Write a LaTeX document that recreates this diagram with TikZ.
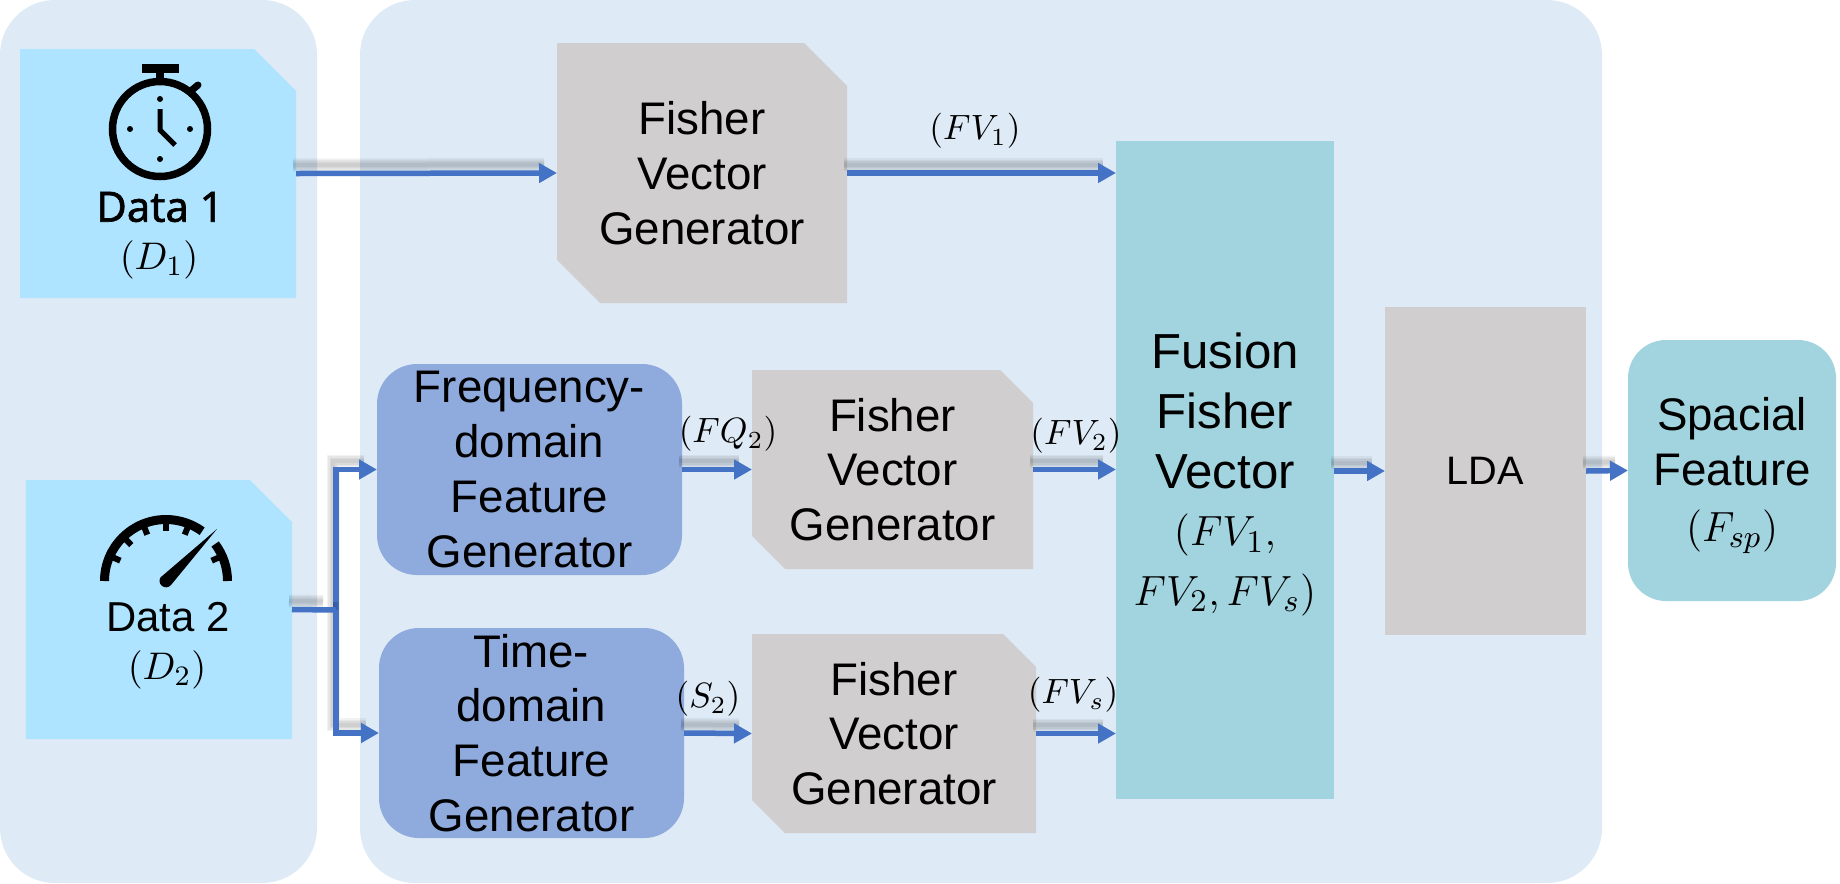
\documentclass[tikz,border=0pt]{standalone}
\usepackage{fontspec}
\setmainfont{Liberation Sans}
\newfontfamily\datafont[FakeBold=1.4]{Noto Sans}
\usetikzlibrary{arrows.meta}
\definecolor{panelblue}{HTML}{DEEAF6}
\definecolor{databg}{HTML}{AEE4FF}
\definecolor{gengray}{HTML}{D0CECE}
\definecolor{featblue}{HTML}{8FAADC}
\definecolor{fusionteal}{HTML}{A2D4E0}
\definecolor{flowblue}{HTML}{4472C4}
\tikzset{
  panel/.style={fill=panelblue,rounded corners=.55cm,inner sep=0,outer sep=0},
  databox/.style={inner sep=0,outer sep=0,path picture={
    \fill[databg] (path picture bounding box.north west) -- ([xshift=-.42cm]path picture bounding box.north east)
      -- ([yshift=-.42cm]path picture bounding box.north east) -- (path picture bounding box.south east)
      -- (path picture bounding box.south west) -- cycle;}},
  fisherbox/.style={inner sep=0,outer sep=0,align=center,font=\fontsize{13}{15.6}\selectfont,path picture={
    \fill[gengray] (path picture bounding box.north west) -- ([xshift=-#1]path picture bounding box.north east)
      -- ([yshift=-#1]path picture bounding box.north east) -- (path picture bounding box.south east)
      -- ([xshift=#1]path picture bounding box.south west) -- ([yshift=#1]path picture bounding box.south west) -- cycle;}},
  fisherbox/.default=.33cm,
  featbox/.style={fill=featblue,rounded corners=.4cm,inner sep=0,outer sep=0,
    align=center,font=\fontsize{13}{15.6}\selectfont},
  flatbox/.style={fill=gengray,inner sep=0,outer sep=0,font=\fontsize{11.3}{14}\selectfont},
  fusionbox/.style={fill=fusionteal,inner sep=0,outer sep=0},
  sigbox/.style={fill=fusionteal,rounded corners=.38cm,inner sep=0,outer sep=0},
  siglabel/.style={inner sep=0,font=\fontsize{10.3}{12}\selectfont},
  softshade/.style={preaction={-,draw=black,opacity=.05,line width=#1,shorten >=.1cm,
    transform canvas={xshift=-.03cm,yshift=.085cm}}},
  flowline/.style={draw=flowblue,line width=.055cm,softshade=.13cm,softshade=.10cm,softshade=.07cm,softshade=.04cm},
  flow/.style={flowline,-{Triangle[length=.18cm,width=.19cm]}},
}
\begin{document}
\begin{tikzpicture}
\useasboundingbox (0,0) rectangle (18.40,-8.83);
% background panels
\node[panel,minimum width=3.17cm,minimum height=8.83cm] (inpanel) at(1.585,-4.415) {};
\node[panel,minimum width=12.42cm,minimum height=8.83cm] (mainpanel) at(9.81,-4.415) {};
% input blocks
\node[databox,minimum width=2.76cm,minimum height=2.49cm] (data1) at(1.58,-1.735) {};
\node[databox,minimum width=2.66cm,minimum height=2.59cm] (data2) at(1.59,-6.095) {};
\node[font=\datafont\fontsize{11.9}{14}\selectfont] (data1name) at(1.60,-2.07) {Data 1};
\node[font=\fontsize{11.2}{14}\selectfont] (data1sym) at(1.59,-2.60) {$(D_1)$};
\node[font=\fontsize{11.9}{14}\selectfont] (data2name) at(1.68,-6.17) {Data 2};
\node[font=\fontsize{11.2}{14}\selectfont] (data2sym) at(1.67,-6.70) {$(D_2)$};
% stopwatch
\draw[line width=.075cm] (1.60,-1.29) circle (.475);
\fill (1.42,-.64) rectangle (1.79,-.73);
\fill (1.56,-.73) rectangle (1.64,-.82);
\draw[line width=.07cm,line cap=round] (1.92,-.90) -- (1.98,-.85);
\foreach \a in {0,90,180,270}
  \fill (\a:.30)++(1.60,-1.29) circle (.03);
\draw[line width=.05cm] (1.60,-1.09) -- (1.60,-1.30) -- (1.75,-1.45);
% gauge
\begin{scope}[shift={(1.66,-5.81)}]
\draw[line width=.09cm] (180:.615) arc (180:54:.615);
\draw[line width=.09cm] (37:.615) arc (37:0:.615);
\foreach \a in {156,134,112,90,68,24}
  \draw[line width=.06cm] (\a:.60) -- (\a:.50);
\fill (-.05,.04) -- (.51,.52) -- (.05,-.04) arc (-40:-220:.065) -- cycle;
\end{scope}
% processing blocks
\node[fisherbox=.43cm,minimum width=2.90cm,minimum height=2.60cm] (fisher1) at(7.02,-1.73) {Fisher\\Vector\\Generator};
\node[featbox,minimum width=3.05cm,minimum height=2.11cm] (freq) at(5.295,-4.695) {Frequency-\\domain\\Feature\\Generator};
\node[featbox,minimum width=3.05cm,minimum height=2.10cm] (time) at(5.315,-7.33) {Time-\\domain\\Feature\\Generator};
\node[fisherbox,minimum width=2.81cm,minimum height=1.99cm] (fisher2) at(8.925,-4.695) {Fisher\\Vector\\Generator};
\node[fisherbox,minimum width=2.84cm,minimum height=1.99cm] (fishers) at(8.94,-7.335) {Fisher\\Vector\\Generator};
\node[fusionbox,minimum width=2.18cm,minimum height=6.58cm] (fusion) at(12.25,-4.70) {};
\node[font=\fontsize{14}{17}\selectfont,align=center] (fusionname) at(12.25,-4.11) {Fusion\\Fisher\\Vector};
\node[font=\fontsize{13}{17}\selectfont,align=center] (fusionsym) at(12.25,-5.65) {$(FV_1,$\\$FV_2,FV_s)$};
\node[flatbox,minimum width=2.01cm,minimum height=3.28cm] (lda) at(14.855,-4.71) {LDA};
\node[sigbox,minimum width=2.08cm,minimum height=2.61cm] (spacial) at(17.32,-4.705) {};
\node[font=\fontsize{13}{15.6}\selectfont,align=center] (spacialname) at(17.32,-4.42) {Spacial\\Feature};
\node[font=\fontsize{13}{15.6}\selectfont] (spacialsym) at(17.32,-5.32) {$(F_{sp})$};
% connectors
\coordinate (fork) at(3.36,-6.10);
\draw[flow] (data1.east) -- (fisher1.west);
\draw[flow] (fisher1.east) -- (fisher1.east -| fusion.west);
\draw[flow] (fork) |- (freq.west);
\draw[flow] (fork) |- (time.west);
\draw[flowline] (data2.east) -- (fork);
\draw[flow] (freq.east) -- (fisher2.west);
\draw[flow] (time.east) -- (fishers.west);
\draw[flow] (fisher2.east) -- (fisher2.east -| fusion.west);
\draw[flow] (fishers.east) -- (fishers.east -| fusion.west);
\draw[flow] (lda.east) -- (spacial.west);
\draw[flow] (fusion.east |- lda.west) -- (lda.west);
% signal labels
\node[siglabel] (fv1label) at(9.75,-1.31) {$(FV_1)$};
\node[siglabel] (fq2label) at(7.28,-4.34) {$(FQ_2)$};
\node[siglabel] (fv2label) at(10.76,-4.36) {$(FV_2)$};
\node[siglabel] (s2label) at(7.08,-6.99) {$(S_2)$};
\node[siglabel] (fvslabel) at(10.73,-6.95) {$(FV_s)$};
\end{tikzpicture}
\end{document}
